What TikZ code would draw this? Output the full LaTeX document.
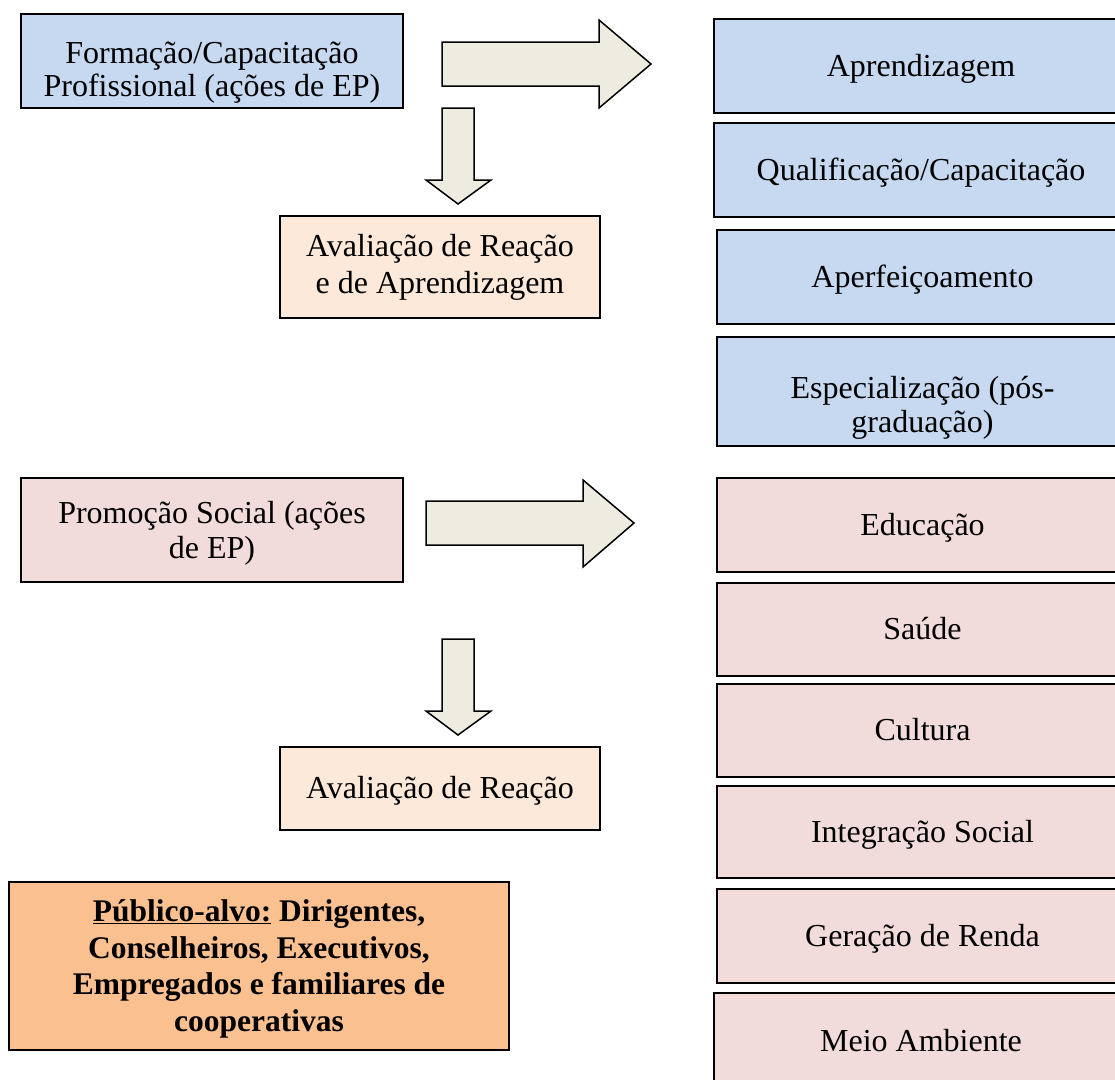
\documentclass[tikz,border=0pt]{standalone}
\usepackage{fontspec}
\setmainfont{Liberation Serif}
\definecolor{blueF}{HTML}{C6D9F1}
\definecolor{peachF}{HTML}{FDE9D9}
\definecolor{pinkF}{HTML}{F2DCDB}
\definecolor{arrowF}{HTML}{EEECE1}
\definecolor{orangeF}{HTML}{FAC090}
\begin{document}
\begin{tikzpicture}[x=1pt,y=-1pt,
  % text height/depth fix where the last baseline sits inside each box
  box/.style={draw=black, line width=1.5pt, rectangle, align=center, inner sep=0pt,
    font=\fontsize{32}{33}\selectfont, text height=26pt, text depth=6pt},
  lead/.style={font=\fontsize{32}{#1}\selectfont},
  bluebox/.style={box, fill=blueF},
  peachbox/.style={box, fill=peachF},
  pinkbox/.style={box, fill=pinkF},
  blockarrow/.style={draw=black, line width=1.5pt, fill=arrowF, line join=miter}]
\useasboundingbox (0,0) rectangle (1115,1079);

% left column
\node[bluebox, lead=33, text height=76pt, minimum width=382pt, minimum height=94pt] (form) at (212,61)
  {Formação/Capacitação\\Profissional (ações de EP)};
\node[peachbox, lead=36.6, text height=58.6pt, minimum width=320pt, minimum height=102pt] (aval1) at (440,267)
  {Avaliação de Reação\\e de Aprendizagem};
\node[pinkbox, lead=35, text height=62pt, minimum width=382pt, minimum height=104pt] (promo) at (212,530)
  {Promoção Social (ações\\de EP)};
\node[peachbox, minimum width=320pt, minimum height=83pt] (aval2) at (440,788.5)
  {Avaliação de Reação};
\node[box, fill=orangeF, minimum width=500pt, minimum height=168pt, text height=136pt,
  font=\fontsize{31.5}{36.5}\selectfont\bfseries] (publico) at (259,966)
  {\underline{Público-alvo:} Dirigentes,\\Conselheiros, Executivos,\\Empregados e familiares de\\cooperativas};

% right column: professional training outcomes
\node[bluebox, minimum width=414pt, minimum height=94pt] (aprend) at (921,66) {Aprendizagem};
\node[bluebox, minimum width=414pt, minimum height=94pt] (qualif) at (921,170) {Qualificação/Capacitação};
\node[bluebox, minimum width=411pt, minimum height=94pt] (aperf) at (922.5,277) {Aperfeiçoamento};
\node[bluebox, lead=34, text height=87pt, minimum width=411pt, minimum height=109pt] (espec) at (922.5,391.5)
  {Especialização (pós-\\graduação)};

% right column: social promotion areas
\node[pinkbox, minimum width=411pt, minimum height=94pt] (educ) at (922.5,525) {Educação};
\node[pinkbox, minimum width=411pt, minimum height=93pt] (saude) at (922.5,629.5) {Saúde};
\node[pinkbox, minimum width=411pt, minimum height=93pt] (cult) at (922.5,730.5) {Cultura};
\node[pinkbox, minimum width=411pt, minimum height=92pt] (integ) at (922.5,832) {Integração Social};
\node[pinkbox, minimum width=411pt, minimum height=94pt] (renda) at (922.5,936) {Geração de Renda};
\node[pinkbox, minimum width=414pt, minimum height=97pt] (meio) at (921,1041.5) {Meio Ambiente};

% block arrows
\draw[blockarrow] (442,42) -- (599,42) -- (599,20) -- (651,64) -- (599,108) -- (599,86) -- (442,86) -- cycle;
\draw[blockarrow] (442,108) -- (474,108) -- (474,180) -- (491,180) -- (458,204) -- (426,180) -- (442,180) -- cycle;
\draw[blockarrow] (426,501) -- (583,501) -- (583,480) -- (634,523) -- (583,567) -- (583,545) -- (426,545) -- cycle;
\draw[blockarrow] (442,639) -- (474,639) -- (474,711) -- (491,711) -- (458,735) -- (426,711) -- (442,711) -- cycle;
\end{tikzpicture}
\end{document}
